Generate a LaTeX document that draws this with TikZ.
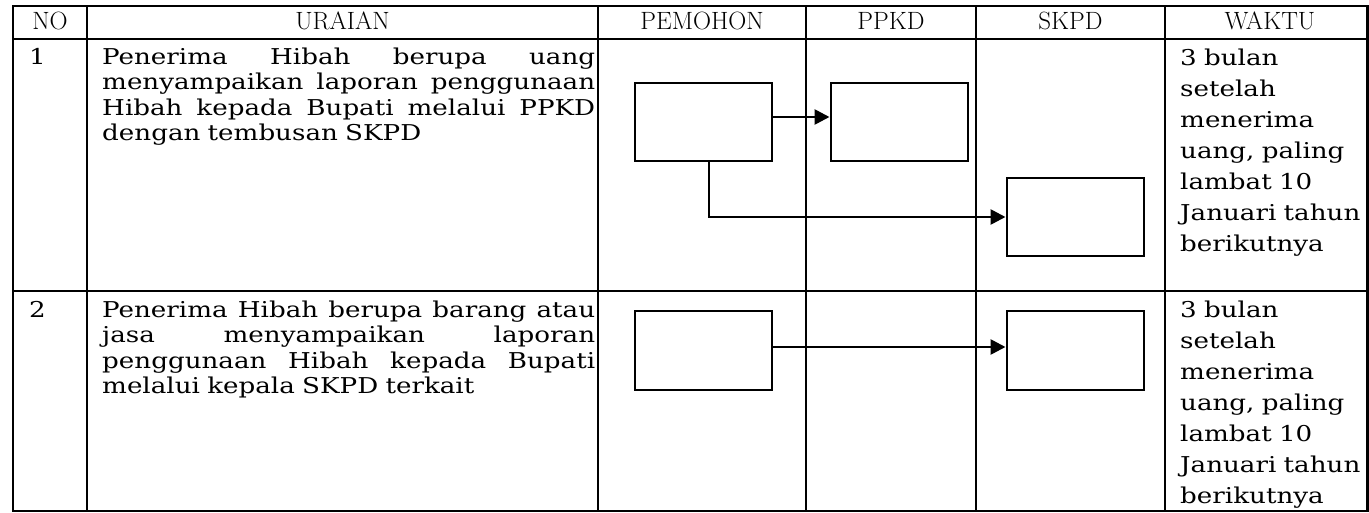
\documentclass[tikz,border=0pt]{standalone}
\usepackage{fontspec}
\newfontfamily\bodyfont[FakeStretch=1.2]{DejaVu Serif}
\usetikzlibrary{arrows.meta}
\hyphenpenalty=10000
\tolerance=10000
\begin{document}
\begin{tikzpicture}[x=1pt,y=-1pt,
  grid/.style={line width=2.2pt},
  head/.style={font=\fontsize{25}{30}\selectfont, anchor=base, inner sep=0pt},
  num/.style={font=\bodyfont\fontsize{21.8}{25.5}\selectfont, anchor=north west, inner sep=0pt},
  desc/.style={font=\bodyfont\fontsize{21.8}{25.5}\selectfont, anchor=north west, inner sep=0pt, text width=493pt, align=left},
  time/.style={font=\bodyfont\fontsize{21.8}{31}\selectfont, anchor=north west, inner sep=0pt, text width=189pt, align=left},
  flowbox/.style={draw, line width=2pt, minimum width=137pt, minimum height=78pt, inner sep=0pt},
  arr/.style={line width=2.7pt, -{Triangle[length=15pt,width=15pt]}}]
\useasboundingbox (0,0) rectangle (1369,513);
% table grid
\draw[grid] (13,6) rectangle (1367.5,511);
\draw[grid] (13,39) -- (1367.5,39);
\draw[grid] (13,291) -- (1367.5,291);
\foreach \x in {87,598,806,976,1165} \draw[grid] (\x,6) -- (\x,511);
% headers
\node[head] (hno) at (50,29.5) {NO};
\node[head] (hur) at (342.5,29.5) {URAIAN};
\node[head] (hpe) at (702,29.5) {PEMOHON};
\node[head] (hpp) at (891,29.5) {PPKD};
\node[head] (hsk) at (1070.5,29.5) {SKPD};
\node[head] (hwa) at (1270,29.5) {WAKTU};
% row 1
\node[num] (n1) at (29,48) {1};
\node[desc] (d1) at (102,47.5) {Penerima\hfill Hibah\hfill berupa\hfill uang\\
menyampaikan\hfill laporan\hfill penggunaan\\
Hibah\hfill kepada\hfill Bupati\hfill melalui\hfill PPKD\\
dengan tembusan SKPD};
\node[time] (t1) at (1180,48.4) {3 bulan\\ setelah\\ menerima\\ uang, paling\\ lambat 10\\ Januari tahun\\ berikutnya};
% row 2
\node[num] (n2) at (29,301) {2};
\node[desc] (d2) at (102,300.3) {Penerima\hfill Hibah\hfill berupa\hfill barang\hfill atau\\
jasa\hfill menyampaikan\hfill laporan\\
penggunaan\hfill Hibah\hfill kepada\hfill Bupati\\
melalui kepala SKPD terkait};
\node[time] (t2) at (1180,300.5) {3 bulan\\ setelah\\ menerima\\ uang, paling\\ lambat 10\\ Januari tahun\\ berikutnya};
% flow boxes
\node[flowbox] (a1) at (703.5,122) {};
\node[flowbox] (b1) at (899,122) {};
\node[flowbox] (c1) at (1075,217) {};
\node[flowbox] (a2) at (703.5,350.5) {};
\node[flowbox] (c2) at (1075,350.5) {};
% connectors
\draw[arr] ([yshift=5pt]a1.east) -- ([yshift=5pt]b1.west);
\draw[arr] ([xshift=5.5pt]a1.south) |- (c1.west);
\draw[arr] ([yshift=3.5pt]a2.east) -- ([yshift=3.5pt]c2.west);
\end{tikzpicture}
\end{document}
